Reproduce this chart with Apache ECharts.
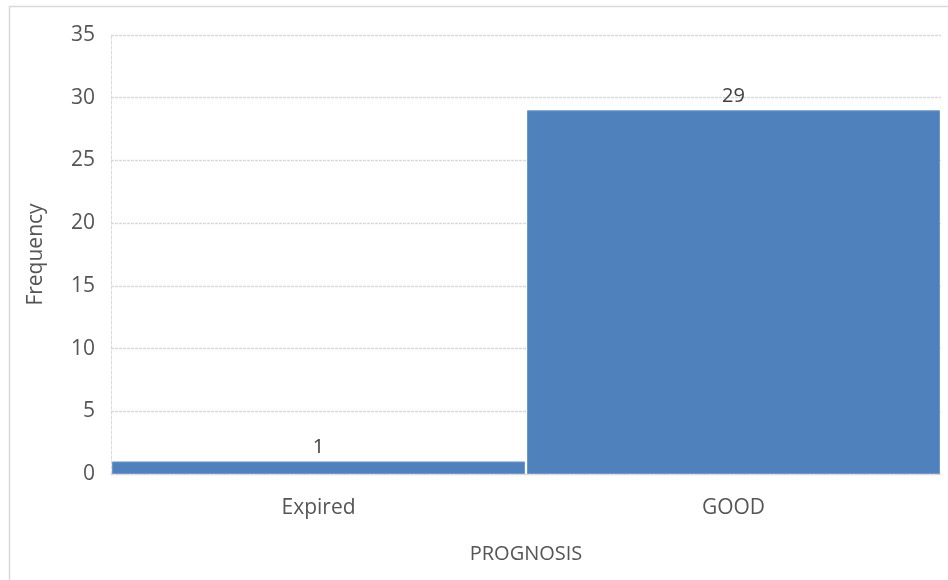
<!DOCTYPE html>
<html>
<head>
<meta charset="utf-8">
<script src="https://cdn.jsdelivr.net/npm/echarts@6/dist/echarts.min.js"></script>
<style>
  html, body { margin: 0; padding: 0; background: #fff; }
  #chart { width: 948px; height: 580px; }
</style>
</head>
<body>
<div id="chart"></div>
<script>
// Prognosis categories and their frequencies
const categories = ['Expired', 'GOOD'];
const frequency = [1, 29];
const yTicks = { min: 0, max: 35, interval: 5 };

const textColor = '#555555';
const fontFamily = '"Open Sans", Lato, sans-serif';

const chart = echarts.init(document.getElementById('chart'), null, { renderer: 'canvas' });

chart.setOption({
  animation: false,
  backgroundColor: '#ffffff',
  graphic: [{
    type: 'rect',
    shape: { x: 9.5, y: 6.5, width: 960, height: 600 },
    style: { fill: 'none', stroke: '#d9d9d9', lineWidth: 1.5 },
    silent: true
  }],
  grid: { left: 111, right: 7, top: 35, bottom: 106, containLabel: false },
  xAxis: {
    type: 'category',
    data: categories,
    name: 'PROGNOSIS',
    nameLocation: 'middle',
    nameGap: 70,
    nameTextStyle: { color: textColor, fontFamily, fontSize: 20 },
    axisLine: { show: true, lineStyle: { color: '#d9d9d9', type: [3, 2], width: 1 } },
    axisTick: { show: false },
    axisLabel: { color: textColor, fontFamily, fontSize: 21, margin: 24 }
  },
  yAxis: {
    type: 'value',
    min: yTicks.min,
    max: yTicks.max,
    interval: yTicks.interval,
    name: 'Frequency',
    nameLocation: 'middle',
    nameGap: 64,
    nameRotate: 90,
    nameTextStyle: { color: textColor, fontFamily, fontSize: 21 },
    axisLine: { show: true, lineStyle: { color: '#d9d9d9', type: [3, 2], width: 1 } },
    axisTick: { show: false },
    axisLabel: { color: textColor, fontFamily, fontSize: 21, margin: 16 },
    splitLine: { show: true, lineStyle: { color: '#d9d9d9', type: [3, 1], width: 1.3 } }
  },
  series: [{
    type: 'bar',
    data: frequency,
    barCategoryGap: 2,
    itemStyle: { color: '#4f81bd', borderColor: '#6f97c9', borderWidth: 1 },
    label: {
      show: true,
      position: 'top',
      distance: 4,
      color: '#404040',
      fontFamily,
      fontSize: 20
    }
  }]
});
</script>
</body>
</html>
